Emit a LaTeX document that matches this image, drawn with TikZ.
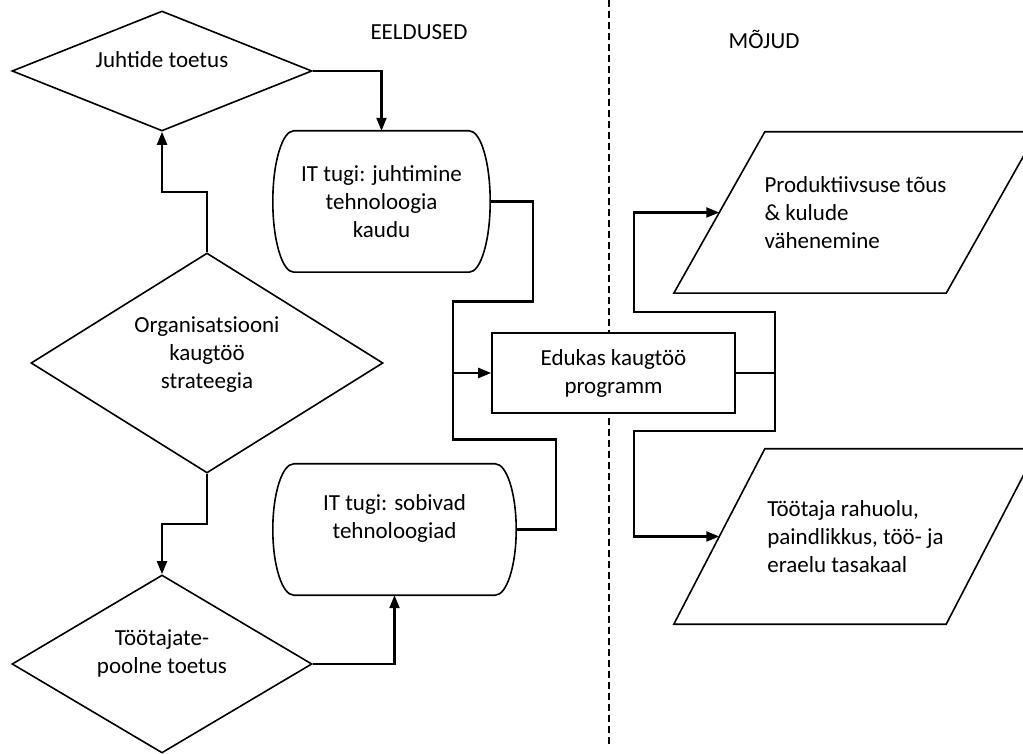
\documentclass[tikz,border=0pt]{standalone}
\usepackage{fontspec}
\setmainfont{Carlito}
\usepackage{xcolor}
\usepackage{tikz}
\usetikzlibrary{arrows.meta,positioning,calc,shapes.geometric}
\definecolor{fcInk}{HTML}{000000}
\newcommand{\flowfont}{\fontsize{23pt}{28pt}\selectfont}
% IT support box outline: flat top/bottom, elliptic sides
\newcommand{\itsides}[1]{%
  \draw[line width=1.6pt,color=fcInk]
    let \p1=(#1.north), \p2=(#1.south), \n1={(\y1-\y2)/2} in
    ([xshift=21pt]#1.north west) -- ([xshift=-21pt]#1.north east)
    arc[start angle=90,end angle=-90,x radius=21pt,y radius=\n1]
    -- ([xshift=21pt]#1.south west)
    arc[start angle=270,end angle=90,x radius=21pt,y radius=\n1] -- cycle;}
% Outcome parallelogram outline round a node (#2 = half slant)
\newcommand{\slantsides}[2]{%
  \draw[line width=1.6pt,color=fcInk]
    ([xshift=-#2]#1.south west) -- ([xshift=-#2]#1.south east)
    -- ([xshift=#2]#1.north east) -- ([xshift=#2]#1.north west) -- cycle;}
\tikzset{
  % Decision diamond
  dbox/.style={diamond,draw=fcInk,line width=1.6pt,inner sep=0pt,
    align=center,font=\flowfont,text=fcInk},
  % IT support box (outline from \itsides)
  ibox/.style={rectangle,inner sep=0pt,align=center,
    font=\flowfont,text=fcInk},
  % Programme box
  pbox/.style={rectangle,draw=fcInk,fill=white,line width=1.6pt,
    minimum width=243pt,minimum height=80pt,
    align=center,font=\flowfont,text=fcInk},
  % Outcome box (outline from \slantsides)
  obox/.style={rectangle,minimum width=272pt,inner sep=0pt,
    align=left,font=\flowfont,text=fcInk},
  % Column headings
  head/.style={font=\flowfont,text=fcInk},
  % Arrows and lines
  arr/.style={->,>={Triangle[length=13pt,width=10pt]},line width=2.2pt,color=fcInk},
  wire/.style={line width=2.2pt,color=fcInk},
  divider/.style={dash pattern=on 7pt off 4pt,line width=1.8pt,color=fcInk},
}

\begin{document}
\begin{tikzpicture}[x=1pt,y=1pt]
  \useasboundingbox (0,0) rectangle (1023,753);
  \clip (0,0) rectangle (1023,753);

  \node[head] (pre) at (419,721) {EELDUSED};
  \node[head] (eff) at (764,714) {MÕJUD};
  \draw[divider] (609,753) -- (609,8);

  \node[dbox,aspect=2.5,minimum width=300pt,minimum height=120pt,
    text depth=23pt] (lead) at (162,682) {Juhtide toetus};
  \node[dbox,aspect=1.6,minimum width=352pt,minimum height=220pt,
    text depth=21pt] (strat) at (207,390)
    {Organisatsiooni\\kaugtöö\\strateegia};
  \node[dbox,aspect=1.69,minimum width=300pt,minimum height=178pt,
    text depth=24pt] (staff) at (162,89) {Töötajate-\\poolne toetus};

  \node[ibox,minimum width=217pt,minimum height=141pt] (it1)
    at (381.5,551.5) {IT tugi: juhtimine\\tehnoloogia\\kaudu};
  \node[ibox,minimum width=243pt,minimum height=131pt,
    text depth=25pt] (it2) at (394.5,223.5) {IT tugi: sobivad\\tehnoloogiad};
  \itsides{it1}
  \itsides{it2}

  \node[pbox] (prog) at (613.5,380) {Edukas kaugtöö\\programm};
  \coordinate (busL) at (453,380);
  \coordinate (busR) at (775,380);

  \node[obox,minimum height=161pt] (out1) at (855.5,540.5)
    {Produktiivsuse tõus\\\& kulude\\vähenemine};
  \node[obox,minimum height=175pt] (out2) at (855.5,216.5)
    {Töötaja rahuolu,\\paindlikkus, töö- ja\\eraelu tasakaal};
  \slantsides{out1}{45.5pt}
  \slantsides{out2}{45.5pt}

  \draw[arr] (lead.east) -| (it1.north);
  \draw[arr] (strat.north) -- ++(0,60) -| (lead.south);
  \draw[arr] (strat.south) -- ++(0,-50) -| (staff.north);
  \draw[arr] (staff.east) -| (it2.south);
  \draw[wire] (it1.east) -- ++(43,0) -- ++(0,-100) -| (busL);
  \draw[wire] (it2.east) -- ++(40,0) -- ++(0,90) -| (busL);
  \draw[arr] (busL) -- (prog.west);
  \draw[wire] (prog.east) -- (busR);
  \draw[arr] (busR) -- ++(0,61) -- ++(-141,0) |- (out1.west);
  \draw[arr] (busR) -- ++(0,-58) -- ++(-141,0) |- (out2.west);
\end{tikzpicture}
\end{document}
